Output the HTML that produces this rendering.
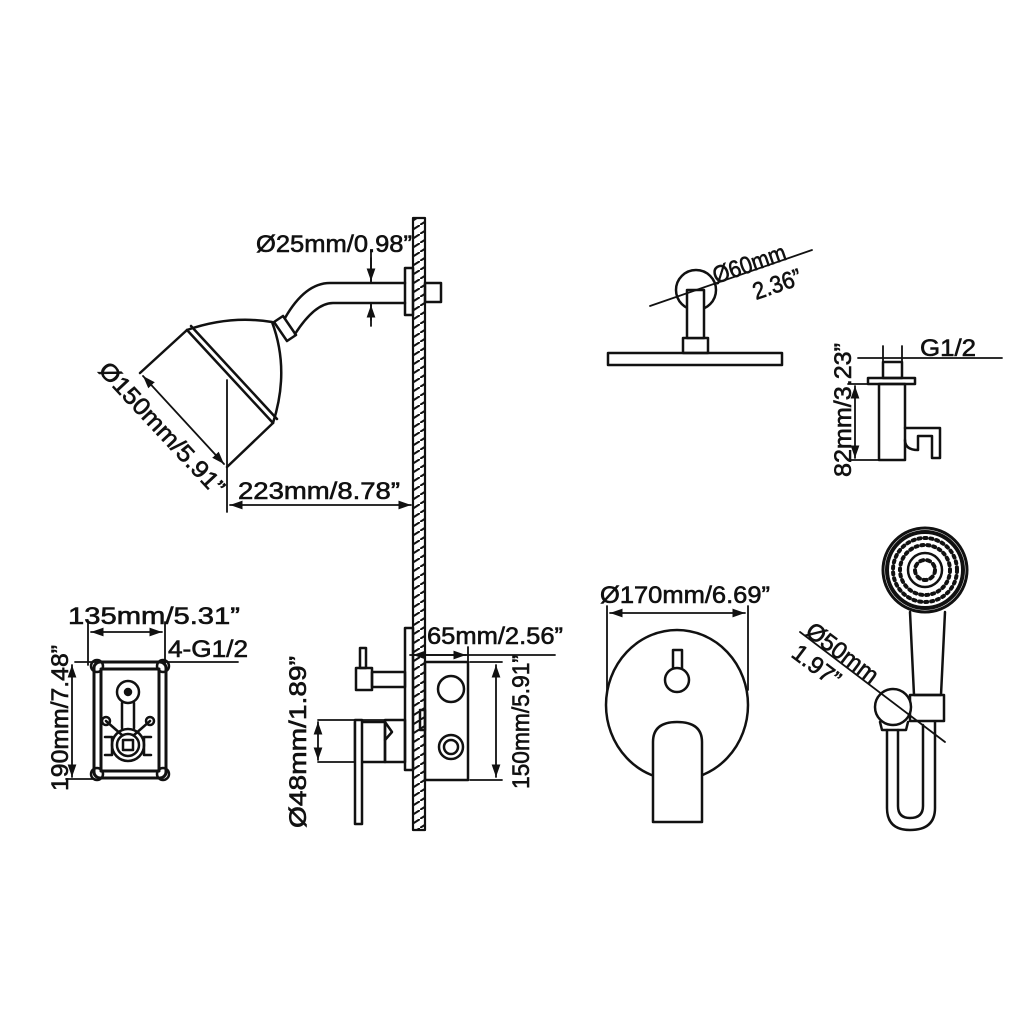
<!DOCTYPE html>
<html><head><meta charset="utf-8"><style>
html,body{margin:0;padding:0;background:#fff}
svg{display:block}
text{font-family:"Liberation Sans",sans-serif;font-size:24px;fill:#111;stroke:#111;stroke-width:0.6}
</style></head><body>
<svg width="1024" height="1024" viewBox="0 0 1024 1024" xmlns="http://www.w3.org/2000/svg">
<defs>
<pattern id="h" width="14" height="9" patternUnits="userSpaceOnUse">
<path d="M0 9 L14 0" stroke="#111" stroke-width="2"/>
</pattern>
<marker id="a" viewBox="0 0 10 10" refX="10" refY="5" markerWidth="7" markerHeight="7" orient="auto-start-reverse"><path d="M0 1.5 L10 5 L0 8.5z" fill="#111"/></marker>
</defs>
<g fill="none" stroke="#111" stroke-width="2.5" stroke-linecap="round" stroke-linejoin="round">
<rect x="413" y="218" width="12" height="612" fill="url(#h)" stroke-width="2.2"/>
<rect x="405" y="268" width="8" height="47"/>
<rect x="425" y="283" width="16" height="19"/>
<path d="M405 283 L330 283 Q305 283 285 318"/>
<path d="M405 303 L333 303 Q315 303 295 334"/>
<path d="M274 322 L283 316 L296 335 L287 341z"/>
<path d="M187 330 Q230 315 272 322 Q290 370 273 423"/>
<path d="M187 330 L273 423 M191 326 L277 419"/>
<path d="M187 330 L140 373 M273 423 L227 467"/>
<path d="M143 376 L224 464" marker-start="url(#a)" marker-end="url(#a)" stroke-width="1.8"/>
<path d="M227 380 L227 512" stroke-width="1.8"/>
<path d="M230 505 L411 505" marker-start="url(#a)" marker-end="url(#a)" stroke-width="1.8"/>
<path d="M371 252 L371 282 M371 303 L371 326" stroke-width="1.8"/>
<path d="M371 258 L371 281" marker-end="url(#a)" stroke-width="1.8"/>
<path d="M371 320 L371 305" marker-end="url(#a)" stroke-width="1.8"/>
<rect x="608" y="353" width="174" height="12"/>
<rect x="683" y="338" width="25" height="15"/>
<circle cx="696" cy="290" r="20"/>
<rect x="687" y="290" width="17" height="48" fill="#fff"/>
<path d="M650 306 L812 250" stroke-width="1.8"/>
<path d="M858 358 L1002 358" stroke-width="1.8"/>
<path d="M883 346 L883 378 M902 346 L902 378" stroke-width="1.8"/>
<rect x="883" y="362" width="19" height="16"/>
<rect x="868" y="378" width="47" height="6"/>
<rect x="879" y="384" width="26" height="76"/>
<path d="M905 428 L940 428 L940 458 L932 458 L932 436 L918 436 L918 450 Q905 450 905 440"/>
<path d="M855 386 L855 458" marker-start="url(#a)" marker-end="url(#a)" stroke-width="1.8"/>
<path d="M848 384 L879 384 M848 460 L879 460" stroke-width="1.8"/>
<path d="M75 662 L238 662" stroke-width="1.8"/>
<path d="M88 622 L88 665 M165 622 L165 665" stroke-width="1.8"/>
<path d="M91 632 L162 632" marker-start="url(#a)" marker-end="url(#a)" stroke-width="1.8"/>
<path d="M72 665 L72 777" marker-start="url(#a)" marker-end="url(#a)" stroke-width="1.8"/>
<path d="M66 779 L95 779" stroke-width="1.8"/>
<rect x="94" y="662" width="72" height="116" rx="6" stroke-width="3"/>
<rect x="101" y="669" width="58" height="102" stroke-width="3"/>
<circle cx="97" cy="666" r="6"/><circle cx="163" cy="666" r="6"/>
<circle cx="97" cy="774" r="6"/><circle cx="163" cy="774" r="6"/>
<circle cx="128" cy="692" r="11"/><circle cx="128" cy="692" r="3" fill="#111"/>
<path d="M122 703 L122 728 M134 703 L134 728"/>
<path d="M106 721 L122 735 M150 721 L134 735"/>
<circle cx="106" cy="721" r="4"/><circle cx="150" cy="721" r="4"/>
<circle cx="128" cy="745" r="16"/><circle cx="128" cy="745" r="11"/>
<rect x="123" y="740" width="10" height="10"/>
<path d="M105 737 L112 737 L112 755 L105 755 M151 737 L144 737 L144 755 L151 755"/>
<rect x="405" y="628" width="8" height="142"/>
<rect x="425" y="662" width="43" height="118"/>
<rect x="420" y="710" width="5" height="20"/>
<circle cx="451" cy="689" r="13"/>
<circle cx="451" cy="747" r="12"/><circle cx="451" cy="747" r="7"/>
<rect x="360" y="648" width="6" height="20"/>
<rect x="356" y="668" width="16" height="22"/>
<rect x="372" y="672" width="33" height="15"/>
<path d="M318 720 L405 720 M318 762 L405 762" stroke-width="1.8"/>
<path d="M318 722 L318 760" marker-start="url(#a)" marker-end="url(#a)" stroke-width="1.8"/>
<rect x="355" y="722" width="30" height="40" fill="#fff"/>
<path d="M385 722 L392 732 L385 740"/>
<rect x="355" y="720" width="7" height="104" fill="#fff"/>
<rect x="385" y="720" width="20" height="42"/>
<path d="M410 655 L555 655" stroke-width="1.8"/>
<path d="M413 655 L466 655" marker-start="url(#a)" marker-end="url(#a)" stroke-width="1.8"/>
<path d="M468 647 L468 662" stroke-width="1.8"/>
<path d="M470 662 L502 662 M470 780 L502 780" stroke-width="1.8"/>
<path d="M496 665 L496 777" marker-start="url(#a)" marker-end="url(#a)" stroke-width="1.8"/>
<path d="M607 606 L607 690 M748 606 L748 690" stroke-width="1.8"/>
<path d="M610 613 L745 613" marker-start="url(#a)" marker-end="url(#a)" stroke-width="1.8"/>
<ellipse cx="677" cy="705" rx="71" ry="75"/>
<rect x="673" y="650" width="9" height="20"/>
<circle cx="677" cy="680" r="12" fill="#fff"/>
<path d="M653 822 L653 742 Q653 722 677 722 Q702 722 702 742 L702 822 Z" fill="#fff"/>
<circle cx="925" cy="570" r="42" stroke-width="3"/>
<circle cx="925" cy="570" r="38" stroke-width="4"/>
<circle cx="925" cy="570" r="32" stroke-width="4" stroke-dasharray="2 4"/>
<circle cx="925" cy="570" r="25" stroke-width="4" stroke-dasharray="2 4"/>
<circle cx="925" cy="570" r="17"/>
<circle cx="925" cy="570" r="10" stroke-width="4" stroke-dasharray="3 4"/>
<path d="M910 612 L914 695 L941 695 L945 612"/>
<rect x="910" y="695" width="34" height="26"/>
<circle cx="893" cy="707" r="18" fill="#fff"/>
<path d="M880 722 L882 730 L906 730 L908 722"/>
<path d="M887 730 L887 808 Q887 830 910 830 Q935 830 935 808 L935 722"/>
<path d="M898 730 L898 806 Q898 818 910 818 Q923 818 923 806 L923 725"/>
<path d="M800 632 L945 742" stroke-width="1.8"/>
</g>
<text x="256" y="252" textLength="156" lengthAdjust="spacingAndGlyphs">Ø25mm/0.98”</text>
<text x="238" y="499" textLength="162" lengthAdjust="spacingAndGlyphs">223mm/8.78”</text>
<text transform="translate(156,434) rotate(47)" text-anchor="middle" textLength="172" lengthAdjust="spacingAndGlyphs">Ø150mm/5.91”</text>
<text transform="translate(716,284) rotate(-19)" textLength="76" lengthAdjust="spacingAndGlyphs">Ø60mm</text>
<text transform="translate(756,300) rotate(-19)" textLength="50" lengthAdjust="spacingAndGlyphs">2.36”</text>
<text x="920" y="356" textLength="56" lengthAdjust="spacingAndGlyphs">G1/2</text>
<text transform="translate(851,410) rotate(-90)" text-anchor="middle" textLength="134" lengthAdjust="spacingAndGlyphs">82mm/3.23”</text>
<text x="68" y="624" textLength="172" lengthAdjust="spacingAndGlyphs">135mm/5.31”</text>
<text x="168" y="657" textLength="80" lengthAdjust="spacingAndGlyphs">4-G1/2</text>
<text transform="translate(68,718) rotate(-90)" text-anchor="middle" textLength="146" lengthAdjust="spacingAndGlyphs">190mm/7.48”</text>
<text x="427" y="644" textLength="136" lengthAdjust="spacingAndGlyphs">65mm/2.56”</text>
<text transform="translate(306,742) rotate(-90)" text-anchor="middle" textLength="172" lengthAdjust="spacingAndGlyphs">Ø48mm/1.89”</text>
<text transform="translate(529,722) rotate(-90)" text-anchor="middle" textLength="134" lengthAdjust="spacingAndGlyphs">150mm/5.91”</text>
<text x="600" y="603" textLength="170" lengthAdjust="spacingAndGlyphs">Ø170mm/6.69”</text>
<text transform="translate(804,634) rotate(37)" textLength="84" lengthAdjust="spacingAndGlyphs">Ø50mm</text>
<text transform="translate(790,656) rotate(37)" textLength="54" lengthAdjust="spacingAndGlyphs">1.97”</text>
</svg>
</body></html>
